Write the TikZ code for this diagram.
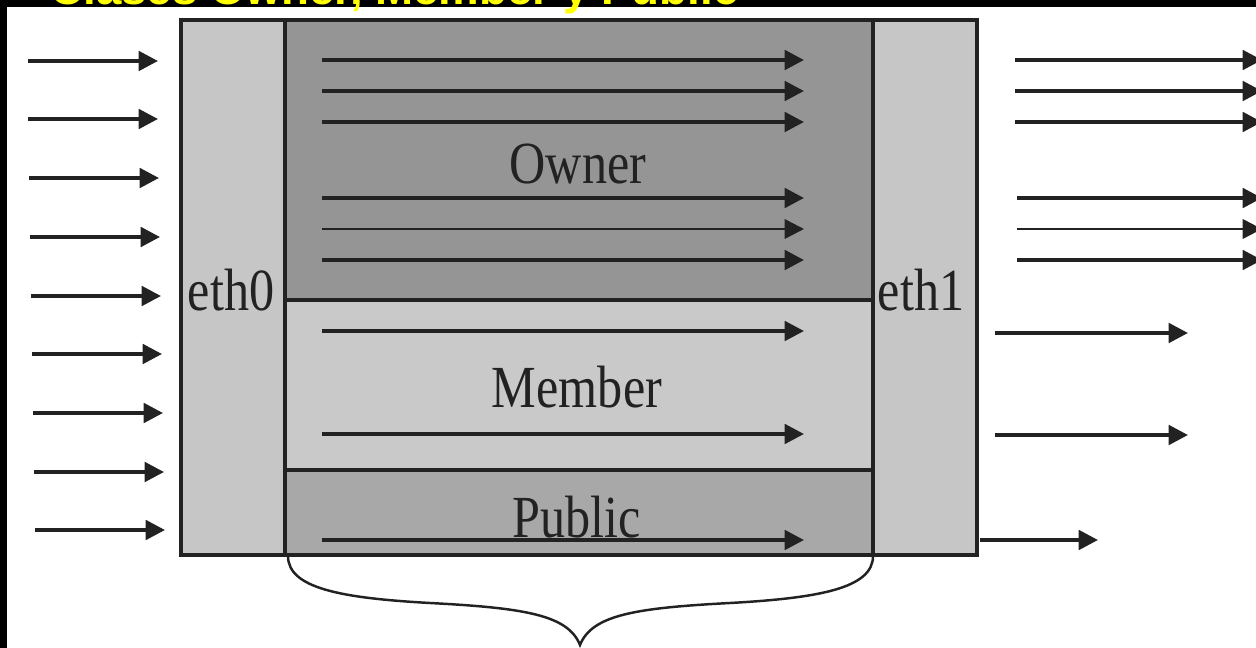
\documentclass[tikz,border=0pt]{standalone}
\usepackage{fontspec}
\setmainfont{Liberation Serif}
\newfontfamily\titlefont{Liberation Sans}
\newfontfamily\labelfont[FakeStretch=0.84]{Liberation Serif}
\usepackage{tikz}
\usetikzlibrary{arrows.meta,calc,positioning}
\definecolor{ethgray}{HTML}{C6C6C6}
\definecolor{ownergray}{HTML}{959595}
\definecolor{membergray}{HTML}{C9C9C9}
\definecolor{publicgray}{HTML}{A8A8A8}
\definecolor{inkgray}{HTML}{222222}
\definecolor{titleyellow}{HTML}{FFFF00}
\tikzset{
    myarrow/.style={line width=2.2pt,draw=inkgray,-{Triangle[length=11pt,width=11pt]}},
    myface/.style={draw=inkgray,line width=1.8pt},
    mybrace/.style={draw=inkgray,line width=1.4pt},
    mylabel/.style={font=\labelfont\fontsize{34}{34}\selectfont,text=inkgray,inner sep=0pt},
    every node/.style={font=\small}
}

\begin{document}
\begin{tikzpicture}[x=0.2mm,y=-0.2mm]
            \useasboundingbox (0,0) rectangle (1256,648);
            \clip (0,0) rectangle (1256,648);

  % 背景与标题
            \fill[black] (0,0) rectangle (1256,648);
            \fill[white] (7,7) rectangle (1256,648);
            \node[font=\titlefont\bfseries\fontsize{26}{26}\selectfont,text=titleyellow,
                  anchor=base west,inner sep=0pt] (title) at (50,5) {Clases Owner, Member y Public};

  %---------------- 各区域 ----------------
            \coordinate (E0a) at (181,20);  \coordinate (E0b) at (285,555);
            \coordinate (E1a) at (873,20);  \coordinate (E1b) at (977,555);
            \coordinate (OWa) at (285,20);  \coordinate (OWb) at (873,300);
            \coordinate (MEa) at (285,300); \coordinate (MEb) at (873,470);
            \coordinate (PUa) at (285,470); \coordinate (PUb) at (873,555);

            \fill[ethgray] (E0a) rectangle (E0b);
            \fill[ethgray] (E1a) rectangle (E1b);
            \fill[ownergray] (OWa) rectangle (OWb);
            \fill[membergray] (MEa) rectangle (MEb);
            \fill[publicgray] (PUa) rectangle (PUb);
            \foreach \A/\B in {E0a/E0b,E1a/E1b,OWa/OWb,MEa/MEb,PUa/PUb}{
                \draw[myface] (\A) rectangle (\B);
            }

  %---------------- 标签 ----------------
            \node[mylabel] (eth0) at (231,290) {eth0};
            \node[mylabel] (eth1) at (921,290) {eth1};
            \node[mylabel] (owner) at (578,164) {Owner};
            \node[mylabel] (member) at (577,387) {Member};
            \node[mylabel] (public) at (577,517) {Public};

  %---------------- 输入箭头 ----------------
            \foreach \y/\xa/\xb [count=\i] in {61/28/158,119/28/158,178/29/159,237/30/160,
                296/31/161,354/32/162,413/33/163,472/34/164,530/35/165}{
                \coordinate (in\i) at (\xa,\y);
                \coordinate (in\i t) at (\xb,\y);
                \draw[myarrow] (in\i) -- (in\i t);
            }

  %---------------- 内部箭头 ----------------
            \foreach \y/\w [count=\i] in {60/2.2pt,91/2.2pt,122/2.2pt,198/2.2pt,229/1.4pt,
                260/2.2pt,331/2.2pt,434/2.2pt,540/2.2pt}{
                \coordinate (mid\i) at (322,\y);
                \coordinate (mid\i t) at (804,\y);
                \draw[myarrow,line width=\w] (mid\i) -- (mid\i t);
            }

  %---------------- 输出箭头 ----------------
            \foreach \y/\xa/\xb/\w [count=\i] in {60/1015/1262/2.2pt,91/1015/1262/2.2pt,
                122/1015/1262/2.2pt,198/1017/1262/2.2pt,229/1017/1262/1.4pt,260/1017/1262/2.2pt,
                333/995/1188/2.2pt,435/995/1188/2.2pt,540/980/1098/2.2pt}{
                \coordinate (out\i) at (\xa,\y);
                \coordinate (out\i t) at (\xb,\y);
                \draw[myarrow,line width=\w] (out\i) -- (out\i t);
            }

  %---------------- 大括号 ----------------
            \coordinate (brL) at (288,556);
            \coordinate (brM) at (580,645);
            \coordinate (brR) at (873,556);
            \draw[mybrace] (brL) .. controls (288,588) and (340,598) .. (430,603)
                .. controls (525,608) and (568,615) .. (brM)
                .. controls (592,615) and (635,608) .. (730,603)
                .. controls (820,598) and (873,588) .. (brR);

        \end{tikzpicture}
\end{document}
